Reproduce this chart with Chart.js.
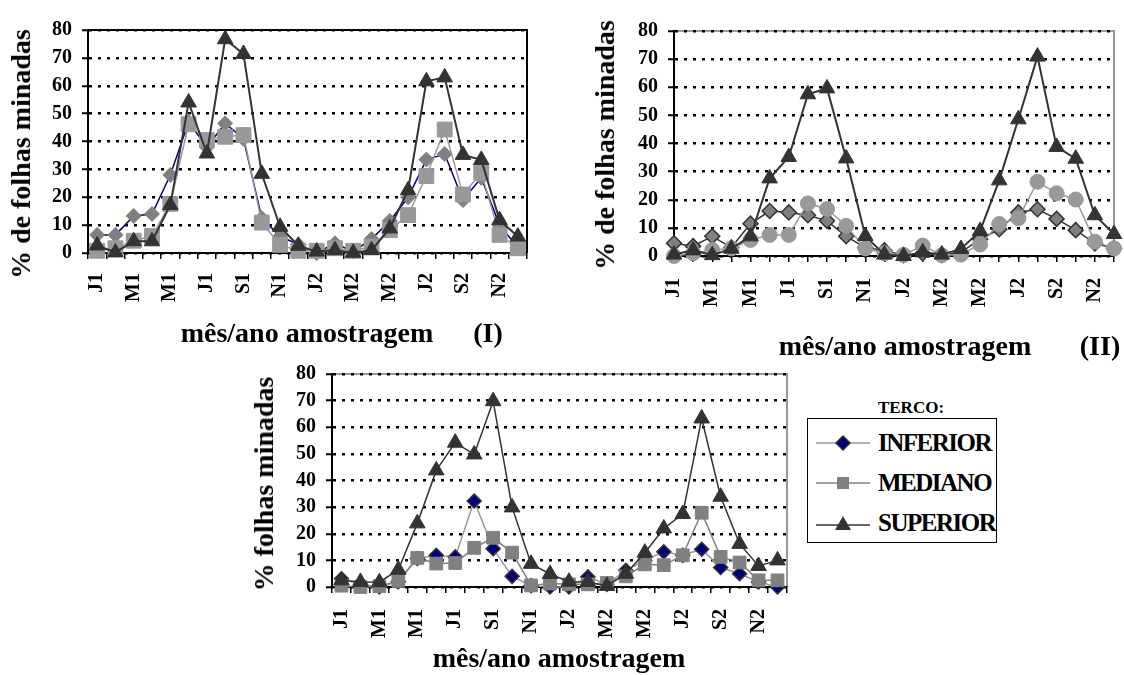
<!DOCTYPE html>
<html><head><meta charset="utf-8">
<script src="https://cdn.jsdelivr.net/npm/chart.js@4"></script>
<style>
body{margin:0;background:#fff;width:1124px;height:675px;position:relative;overflow:hidden;font-family:'Liberation Serif','Times New Roman',serif;}
canvas{position:absolute;}
.t{position:absolute;font-weight:bold;font-size:28px;line-height:1;color:#000;white-space:nowrap;transform:translate(-50%,-50%);}
.r{transform:translate(-50%,-50%) rotate(-90deg);}
#leg{position:absolute;left:807px;top:418px;width:188px;height:123px;border:1.5px solid #000;}
.li{position:absolute;left:8px;height:30px;display:flex;align-items:center;}
.li span{font-weight:bold;font-size:25px;letter-spacing:-1.5px;margin-left:8px;}
</style></head><body>
<canvas id="p1" width="560" height="360" style="left:0;top:0"></canvas>
<canvas id="p2" width="564" height="370" style="left:560px;top:0"></canvas>
<canvas id="p3" width="560" height="300" style="left:240px;top:350px"></canvas>

<div class="t r" style="left:21px;top:154px">% de folhas minadas</div>
<div class="t r" style="left:605px;top:145px">% de folhas minadas</div>
<div class="t r" style="left:264px;top:484px">% folhas minadas</div>

<div class="t" style="left:307px;top:333px">mês/ano amostragem</div>
<div class="t" style="left:488px;top:333px">(I)</div>
<div class="t" style="left:905px;top:346px">mês/ano amostragem</div>
<div class="t" style="left:1100px;top:346px">(II)</div>
<div class="t" style="left:559px;top:658px">mês/ano amostragem</div>

<div class="t" style="left:911px;top:407px;font-size:17px">TERCO:</div>
<div id="leg">
  <div class="li" style="top:9px">
    <svg width="54" height="20"><line x1="0" y1="10" x2="54" y2="10" stroke="#999" stroke-width="1.5"/><polygon points="27,3 34,10 27,17 20,10" fill="#000080" stroke="#333" stroke-width="1.5"/></svg><span>INFERIOR</span></div>
  <div class="li" style="top:49px">
    <svg width="54" height="20"><line x1="0" y1="10" x2="54" y2="10" stroke="#808080" stroke-width="1.5"/><rect x="21" y="4" width="12" height="12" fill="#808080"/></svg><span>MEDIANO</span></div>
  <div class="li" style="top:89px">
    <svg width="54" height="20"><line x1="0" y1="12" x2="54" y2="12" stroke="#333" stroke-width="1.5"/><polygon points="27,3 35,17 19,17" fill="#333"/></svg><span>SUPERIOR</span></div>
</div>

<script>
// categories / tick labels (24 monthly samples, every other one labelled)
const xLabels = ['J1','','M1','','M1','','J1','','S1','','N1','','J2','','M2','','M2','','J2','','S2','','N2',''];
const yMax = 80;
const yStep = 10;
const seriesNames = ['INFERIOR','MEDIANO','SUPERIOR'];

// Panel (I)
const inf1 = [6.5, 6.5, 13.3, 14, 28, 47, 38, 46.5, 41, 12.5, 6, 3, 0, 3.5, 0.5, 5, 11.5, 20, 33.5, 35.5, 19, 27, 10, 2];
const med1 = [0.8, 1.7, 4.4, 6.1, 17.6, 46.2, 40.5, 41.7, 42.3, 10.9, 2.9, 0.8, 0.8, 1.7, 0.8, 2.3, 8.2, 13.6, 27.6, 44.3, 21, 28.8, 6.5, 1.7];
const sup1 = [2.7, 0.2, 4.2, 4.2, 17.2, 54, 35.7, 76.7, 71.4, 28.4, 9.4, 2.6, 0.5, 1, 0.1, 1, 8.8, 22.5, 61.6, 63, 35.2, 33.4, 11.8, 5.9];

// Panel (II)
const inf2 = [4.5, 3.5, 7, 3, 11.5, 16, 15.5, 14.5, 12.5, 7, 3, 2, 0.3, 1, 0.3, 1.3, 6, 9.5, 15.5, 16.6, 13.2, 9.2, 4.5, 2.7];
const med2 = [0, 1, 2.1, 2.7, 5.7, 7.5, 7.5, 18.7, 16.7, 10.7, 2.7, 1, 0.4, 3.7, 0.3, 0.5, 4.1, 11.4, 13.4, 26.4, 22.3, 20.1, 5.1, 2.7];
const sup2 = [0.5, 2, 0.3, 2.6, 7, 27.6, 35.2, 57.5, 59.6, 34.7, 7.1, 0.5, 0, 1.3, 0.5, 2.5, 8.9, 26.9, 48.6, 70.9, 38.8, 34.6, 14.5, 7.8];

// Panel (III)
const inf3 = [3.1, 1, 0, 2, 10.7, 11.9, 11.3, 32.3, 14.4, 4, 0.5, 0, 0, 3.8, 1, 6.3, 10, 13.2, 11.9, 14.2, 7.3, 5, 1.9, 0];
const med3 = [0.5, 0, 0.3, 2.3, 10.9, 8.8, 9, 14.7, 18.5, 12.9, 0.6, 1.3, 1, 1, 1.5, 4, 8.5, 8.2, 11.9, 27.9, 11.3, 9.2, 2.5, 2.5];
const sup3 = [2.5, 1.9, 1.8, 6.5, 23.9, 43.8, 54.2, 49.8, 69.8, 29.9, 8.7, 4.9, 2, 1.9, 0.4, 5, 12.9, 22, 27.4, 63.3, 33.9, 16.2, 7.9, 10];

const FONT = "'Liberation Serif','Times New Roman',serif";

const framePlugin = {
  id: 'frame',
  beforeDraw(chart, args, opts) {
    const {ctx, chartArea: a} = chart;
    ctx.save();
    ctx.strokeStyle = opts.color;
    ctx.lineWidth = opts.width;
    ctx.beginPath();
    ctx.moveTo(a.left, a.top);
    ctx.lineTo(a.right, a.top);
    ctx.lineTo(a.right, a.bottom);
    ctx.stroke();
    ctx.restore();
  }
};

function ds(name, data, st, order) {
  return Object.assign({
    label: name, data: data, tension: 0, clip: false, order: order,
    fill: false, pointHoverRadius: 0
  }, st);
}

function makePanel(id, area, offset, labelPad, sets, frameColor) {
  const cv = document.getElementById(id);
  const W = cv.width, H = cv.height;
  new Chart(cv, {
    type: 'line',
    data: { labels: xLabels, datasets: sets },
    plugins: [framePlugin],
    options: {
      responsive: false, animation: false,
      layout: { padding: { left: 0, top: area.top, right: W - area.right, bottom: 0 } },
      plugins: { legend: { display: false }, tooltip: { enabled: false }, frame: { color: frameColor, width: 2 } },
      scales: {
        x: {
          type: 'category', offset: offset,
          afterFit: s => { s.height = H - area.bottom; s.paddingLeft = 0; s.paddingRight = 0; },
          grid: { display: true, drawOnChartArea: false, drawTicks: true, tickLength: 6, color: '#000', lineWidth: 1.5, offset: offset },
          border: { display: true, color: '#000', width: 2 },
          ticks: { autoSkip: false, maxRotation: 90, minRotation: 90, padding: labelPad, color: '#000', font: { family: FONT, size: 20, weight: 'bold' } }
        },
        y: {
          min: 0, max: yMax,
          afterFit: s => { s.width = area.left; s.paddingTop = 0; s.paddingBottom = 0; },
          grid: { display: true, color: '#000', lineWidth: 2.5, drawTicks: true, tickLength: 6, tickColor: '#000', tickWidth: 2 },
          border: { display: true, color: '#000', width: 2, dash: [3, 6] },
          ticks: { autoSkip: false, stepSize: yStep, padding: 10, color: '#000', font: { family: FONT, size: 20, weight: 'bold' } }
        }
      }
    }
  });
}

const triStyle = { borderColor: '#333333', borderWidth: 2, pointStyle: 'triangle', pointRadius: 9, pointBackgroundColor: '#333333', pointBorderColor: '#333333', pointBorderWidth: 1 };

makePanel('p1', { left: 88, right: 527, top: 30, bottom: 253 }, true, 14, [
  ds(seriesNames[0], inf1, { borderColor: '#000080', borderWidth: 1.5, pointStyle: 'rectRot', pointRadius: 7.5, pointBackgroundColor: '#808080', pointBorderColor: '#808080', pointBorderWidth: 1 }, 2),
  ds(seriesNames[1], med1, { borderColor: '#999999', borderWidth: 1.5, pointStyle: 'rect', pointRadius: 10.5, pointBackgroundColor: '#999999', pointBorderColor: '#999999', pointBorderWidth: 1 }, 1),
  ds(seriesNames[2], sup1, triStyle, 0)
], '#000');

makePanel('p2', { left: 114, right: 558, top: 31, bottom: 256 }, false, 16, [
  ds(seriesNames[0], inf2, { borderColor: '#333333', borderWidth: 1.5, pointStyle: 'rectRot', pointRadius: 7.5, pointBackgroundColor: '#808080', pointBorderColor: '#333333', pointBorderWidth: 1.5 }, 2),
  ds(seriesNames[1], med2, { borderColor: '#999999', borderWidth: 1.5, pointStyle: 'circle', pointRadius: 7.5, pointBackgroundColor: '#999999', pointBorderColor: '#999999', pointBorderWidth: 1 }, 1),
  ds(seriesNames[2], sup2, triStyle, 0)
], '#999');

makePanel('p3', { left: 92, right: 547, top: 24, bottom: 237 }, true, 16, [
  ds(seriesNames[0], inf3, { borderColor: '#999999', borderWidth: 1.5, pointStyle: 'rectRot', pointRadius: 7, pointBackgroundColor: '#000080', pointBorderColor: '#333333', pointBorderWidth: 1.5 }, 2),
  ds(seriesNames[1], med3, { borderColor: '#808080', borderWidth: 1.5, pointStyle: 'rect', pointRadius: 9, pointBackgroundColor: '#808080', pointBorderColor: '#808080', pointBorderWidth: 1 }, 1),
  ds(seriesNames[2], sup3, Object.assign({}, triStyle, { borderWidth: 1.5 }), 0)
], '#999');
</script>
</body></html>
